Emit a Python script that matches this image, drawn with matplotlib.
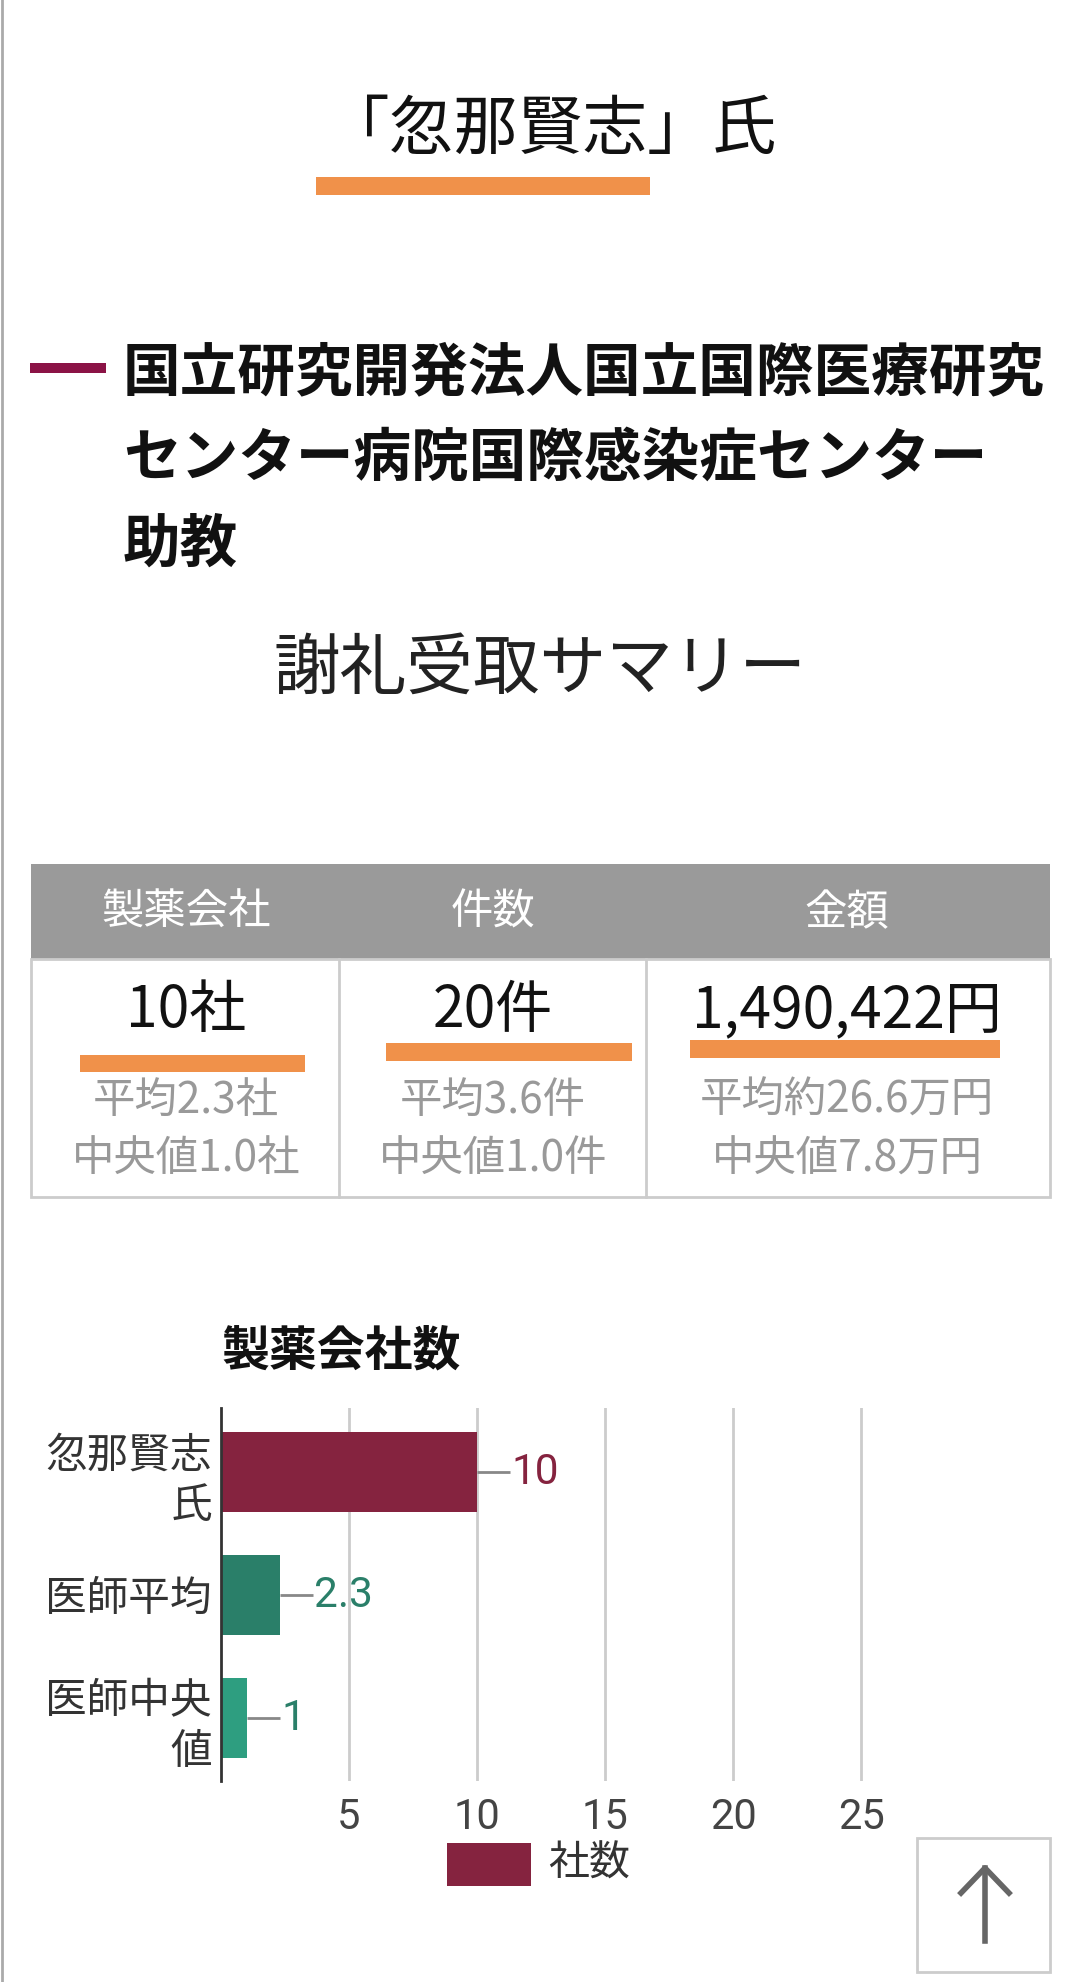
import matplotlib
matplotlib.use('Agg')
import matplotlib.pyplot as plt
from matplotlib.patches import Rectangle
from matplotlib.lines import Line2D

plt.rcParams['font.family'] = ['Noto Sans CJK JP', 'DejaVu Sans']

W, H = 1080, 1982
DPI = 100

# ---------------- data ----------------
doctor_name = '忽那賢志'
affiliation_lines = ['国立研究開発法人国立国際医療研究', 'センター病院国際感染症センター', '助教']
summary_title = '謝礼受取サマリー'
table_headers = ['製薬会社', '件数', '金額']
table_values = ['10社', '20件', '1,490,422円']
table_means = ['平均2.3社', '平均3.6件', '平均約26.6万円']
table_medians = ['中央値1.0社', '中央値1.0件', '中央値7.8万円']

chart_title = '製薬会社数'
categories = ['忽那賢志\n氏', '医師平均', '医師中央\n値']
company_counts = [10, 2.3, 1]
value_labels = ['10', '2.3', '1']
x_ticks = [5, 10, 15, 20, 25]
legend_label = '社数'

bar_colors = ['#85233F', '#2A7F69', '#2E9E80']
label_colors = ['#85233F', '#2A7F69', '#2A7F69']
ORANGE = '#F0914A'

# ---------------- figure ----------------
fig = plt.figure(figsize=(W / DPI, H / DPI), dpi=DPI)
fig.patch.set_facecolor('white')


def fx(x):
    return x / W


def fy(y):
    return 1 - y / H


def rect(x0, y0, x1, y1, **kw):
    fig.add_artist(Rectangle((fx(x0), fy(y1)), (x1 - x0) / W, (y1 - y0) / H,
                             transform=fig.transFigure, **kw))


def line(xs, ys, **kw):
    fig.add_artist(Line2D([fx(x) for x in xs], [fy(y) for y in ys],
                          transform=fig.transFigure, **kw))


# page border on the left
line([2, 2], [0, H], color='#aaaaaa', lw=2)

# title
fig.text(fx(550), fy(131), f'「{doctor_name}」氏', fontsize=46.5, ha='center', va='center', color='#111111')
rect(316, 177, 650, 195, color=ORANGE, lw=0)

# affiliation
rect(30, 363, 106, 373, color='#8B1346', lw=0)
for i, t in enumerate(affiliation_lines):
    fig.text(fx(123), fy(373 + i * 86), t, fontsize=41.5, weight='bold',
             ha='left', va='center', color='#111111')

# summary title
fig.text(fx(540), fy(670), summary_title, fontsize=48, ha='center', va='center', color='#222222')

# table
rect(31, 864, 1050, 959, color='#9a9a9a', lw=0)
rect(31, 959, 1050, 1197, fill=False, edgecolor='#cccccc', lw=2)
line([339, 339], [959, 1197], color='#cccccc', lw=2)
line([646, 646], [959, 1197], color='#cccccc', lw=2)
col_centers = [186, 493, 847]
underlines = [(80, 1055, 305, 1072), (386, 1043, 632, 1061), (690, 1040, 1000, 1058)]
for i in range(3):
    cx = col_centers[i]
    fig.text(fx(cx), fy(913), table_headers[i], fontsize=30.5, ha='center', va='center', color='white')
    fig.text(fx(cx), fy(1011), table_values[i], fontsize=41, ha='center', va='center', color='#111111')
    x0, y0, x1, y1 = underlines[i]
    rect(x0, y0, x1, y1, color=ORANGE, lw=0)
    fig.text(fx(cx), fy(1101), table_means[i], fontsize=30.5, ha='center', va='center', color='#999999')
    fig.text(fx(cx), fy(1160), table_medians[i], fontsize=30.5, ha='center', va='center', color='#999999')

# chart title
fig.text(fx(221), fy(1351), chart_title, fontsize=34.5, weight='bold', ha='left', va='center', color='#111111')

# bar chart
ax = fig.add_axes([fx(221), fy(1781), (989 - 221) / W, (1781 - 1408) / H])
ypos = list(range(len(categories)))
ax.barh(ypos, company_counts, height=0.65, color=bar_colors, zorder=2)
ax.set_xlim(0, 30)
ax.set_ylim(2.51, -0.52)
ax.set_xticks(x_ticks)
ax.set_xticklabels([str(t) for t in x_ticks], family='Roboto')
ax.set_yticks(ypos)
ax.set_yticklabels(categories)
for lbl in ax.get_yticklabels():
    lbl.set_linespacing(1.3)
ax.xaxis.grid(True, color='#cccccc', lw=2)
ax.set_axisbelow(True)
for s in ['top', 'right', 'bottom']:
    ax.spines[s].set_visible(False)
ax.spines['left'].set_color('#333333')
ax.spines['left'].set_linewidth(2)
ax.spines['left'].set_zorder(3)
ax.tick_params(axis='x', length=0, pad=11.5, labelsize=30, labelcolor='#444444')
ax.tick_params(axis='y', length=0, pad=6.5, labelsize=30, labelcolor='#333333')

for i, (v, lab, c) in enumerate(zip(company_counts, value_labels, label_colors)):
    ax.plot([v, v + 1.3], [i, i], color='#888888', lw=2, solid_capstyle='butt', zorder=3)
    ax.text(v + 1.35, i, lab, color=c, fontsize=30.5, va='center', ha='left', family='Roboto')

# legend
rect(447, 1843, 531, 1886, color=bar_colors[0], lw=0)
fig.text(fx(548), fy(1864), legend_label, fontsize=29.5, ha='left', va='center', color='#333333')

# back-to-top button
rect(917, 1838, 1050, 1972, fill=False, edgecolor='#cccccc', lw=2)
line([985, 985], [1868, 1941], color='#666666', lw=4)
line([961, 985, 1009], [1893, 1868, 1893], color='#666666', lw=4)

fig.savefig('out.png', dpi=DPI)
